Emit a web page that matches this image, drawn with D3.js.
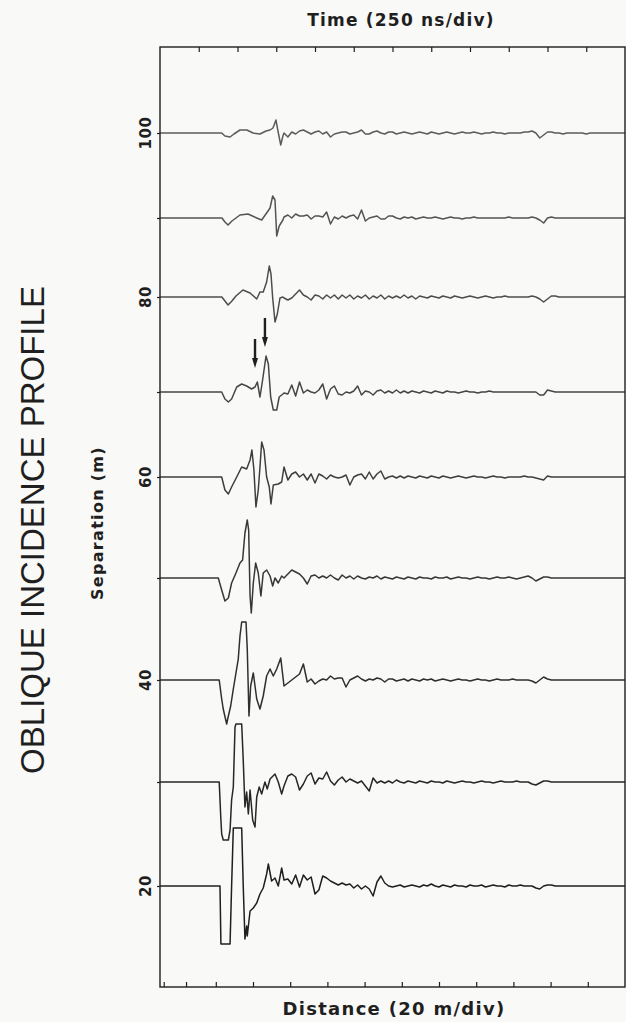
<!DOCTYPE html>
<html>
<head>
<meta charset="utf-8">
<script src="https://cdn.jsdelivr.net/npm/d3@7"></script>
<style>
  html, body { margin: 0; padding: 0; background: #f9f9f7; }
  svg { display: block; }
</style>
</head>
<body>
<svg id="chart" width="626" height="1022"></svg>
<script>
// separation (m) of each trace, top to bottom
const separations = [100, 90, 80, 70, 60, 50, 40, 30, 20]
const sepTicks = [100, 90, 80, 70, 60, 50, 40, 30, 20]
const sepLabels = [100, 80, 60, 40, 20]
const timeTicks = [250, 500, 750, 1000, 1250, 1500, 1750, 2000, 2250, 2500, 2750]
const distTicks = [-28, -16, 0, 20, 40, 60, 80, 100, 120, 140, 160, 180, 200]

// early part of each trace: [time ns, relative amplitude]
const head100 = [[0,0],[398,0],[419,-3],[452,-4],[477,-1],[516,3],[561,3],[600,0],[645,-1],[684,2],[710,3],[729,5],[748,13],[761,2],[779,-12],[793,-3]]
const head90 = [[0,0],[400,0],[419,-4],[439,-7],[464,-3],[516,3],[568,4],[624,0],[656,-2],[688,5],[710,10],[727,22],[742,18],[753,-18],[769,-8],[793,-2]]
const head80 = [[0,0],[399,0],[419,-4],[439,-8],[464,-4],[490,1],[535,7],[581,4],[624,-2],[645,5],[666,5],[688,15],[705,31],[716,23],[727,-1],[742,-25],[757,-17],[774,-1],[793,0]]
const head70 = [[0,0],[398,0],[419,-7],[441,-10],[462,-7],[495,5],[527,8],[559,6],[591,3],[613,5],[628,10],[645,-5],[662,12],[684,36],[699,28],[714,-5],[731,-18],[753,-18],[769,-5],[793,-2]]
const head60 = [[0,0],[398,0],[419,-13],[441,-17],[462,-10],[495,0],[527,10],[559,8],[581,17],[593,27],[606,7],[619,-30],[634,-13],[645,10],[656,35],[671,27],[688,0],[705,-10],[716,-27],[731,-8],[763,-7],[785,-5]]
const head50 = [[0,0],[376,0],[398,-12],[419,-23],[441,-20],[462,-5],[490,5],[516,15],[533,18],[548,45],[563,58],[572,48],[581,-18],[589,-35],[602,-5],[617,15],[634,5],[651,-18],[666,5],[688,8],[710,2],[727,-8],[742,0],[763,-5],[785,2]]
const head40 = [[0,0],[382,0],[398,-19],[408,-29],[430,-44],[441,-36],[456,-26],[473,-9],[490,7],[505,21],[516,44],[527,58],[555,58],[563,31],[574,-36],[585,-6],[602,7],[624,-19],[645,-29],[666,-16],[688,4],[710,11],[731,4],[753,11],[779,22]]
const head30 = [[0,0],[382,0],[392,-35],[398,-52],[408,-58],[441,-58],[452,-48],[462,-18],[473,-5],[484,55],[490,58],[527,58],[537,22],[548,-25],[559,-10],[570,-32],[581,-8],[598,-38],[613,-45],[624,-15],[640,-5],[656,-12],[677,0],[692,-7],[710,3],[742,8],[763,0],[785,-12]]
const head20 = [[0,0],[387,0],[393,-58],[452,-58],[462,0],[473,58],[527,58],[537,0],[548,-53],[559,-40],[563,-50],[581,-25],[602,-22],[624,-17],[645,-8],[666,-2],[688,12],[699,22],[720,5],[742,8],[763,0],[785,18]]

// later part: samples every 25 ns from 800 ns
const codaStart = 800
const codaStep = 25
const coda100 = [0,-4,1,-1,2,3,1,-1,1,2, -1,1,-4,-1,0,1,1,-1,0,1, 3,-1,-1,1,2,0,-1,1,1,-1, 0,1,0,-1,0,1,0,-1,1,0, -1,0,1,0,-1,0,1,0,0,1, 0,-1,0,0,1,0,0,-1,0,0, 0,0,1,1,2,0,-5,-2,1,1, 0,0,-1,0,0,0,0,0,-1,0, 0,0,0,0,0,0,0,0,0]
const coda90 = [1,3,0,4,2,2,3,-1,2,2, 1,6,-6,1,-1,2,0,2,3,-1, 8,-3,0,1,2,-1,-1,2,2,0, -1,1,0,1,-1,0,1,0,0,1, 0,-1,0,1,0,0,-1,0,0,1, 0,0,0,0,0,0,0,0,1,0, 0,0,0,0,1,0,-2,-5,0,1, 0,0,0,0,0,0,0,0,0,0, 0,0,0,0,0,0,0,0,0]
const coda80 = [-1,-3,-1,3,7,2,0,-3,2,1, -2,2,-1,2,-2,2,-1,2,-2,1, -1,2,-2,1,-1,2,-2,1,-1,1, -1,2,-1,1,-2,1,0,-1,1,0, -1,1,0,-1,1,0,-1,0,1,0, -1,0,1,0,-1,0,0,1,0,0, 0,0,0,0,1,0,-2,-5,-2,1, 1,0,0,0,0,0,0,0,0,0, 0,0,0,0,0,0,0,0,0]
const coda70 = [-1,-2,7,-4,10,-1,2,0,-1,2, 8,-7,3,6,-2,-3,0,-1,1,6, -3,1,0,-3,1,2,-1,1,-1,2, -1,1,-1,1,0,-1,1,0,-1,1, 0,-1,1,0,0,-1,0,1,0,0, -1,0,0,1,0,0,0,0,0,0, 0,0,0,0,0,0,-3,-3,2,1, 0,0,0,0,0,0,0,0,0,0, 0,0,0,0,0,0,0,0,0]
const coda60 = [10,-3,3,5,0,3,-3,3,-6,3, 1,-2,2,0,-1,0,2,-8,0,2, 3,-2,5,-2,3,6,-2,0,1,-1, 1,-1,1,0,-1,1,0,-1,1,0, -1,1,0,-1,0,1,0,-1,0,1, 0,0,-1,0,1,0,0,-1,0,0, 0,0,1,0,0,-1,-2,-3,1,0, 0,0,0,0,0,0,0,0,0,0, 0,0,0,0,0,0,0,0,0]
const coda50 = [0,4,8,6,4,0,-6,2,3,0, 2,0,3,0,-2,3,0,2,-1,2, 0,-1,1,0,2,-1,1,0,-1,1, 0,-1,1,0,-1,1,0,0,-1,1, 0,0,1,-1,0,1,0,0,-1,0, 1,0,0,-1,0,1,0,0,1,0, -1,0,1,2,0,-3,-1,1,1,0, 0,0,0,0,0,0,0,0,0,0, 0,0,0,0,0,0,0,0,0]
const coda40 = [-6,-3,0,3,6,16,-2,1,-4,-1, 1,0,4,1,2,2,-7,0,2,4, 1,-1,1,0,2,1,-2,1,1,-1, 0,1,-1,1,0,-1,1,0,1,-1, 0,1,0,-1,0,1,0,0,-1,0, 1,0,0,-1,0,1,0,0,0,1, 0,0,0,0,-1,-3,0,3,1,0, 0,0,0,0,0,0,0,0,0,0, 0,0,0,0,0,0,0,0,0]
const coda30 = [-4,6,8,5,-8,-2,6,9,-2,4, 3,10,1,-3,2,5,0,3,1,-1, 1,-4,-9,4,-1,1,-1,1,-1,2, 0,-1,1,0,-1,1,0,-1,1,0, 0,-1,1,0,-1,0,1,0,0,-1, 0,1,0,0,-1,0,1,0,0,0, 1,0,0,0,-2,-3,-1,1,1,0, 0,0,0,0,0,0,0,0,0,0, 0,0,0,0,0,0,0,0,0]
const coda20 = [6,7,2,11,-1,11,6,9,-8,-4, 10,8,5,3,1,3,1,2,-2,1, -3,0,-3,-10,4,10,3,0,-1,0, 1,-1,0,1,0,-1,1,0,2,0, -1,1,0,-1,1,0,0,-1,1,0, 0,1,-1,0,1,0,0,-1,1,0, 0,1,0,0,0,-2,-3,0,1,1, 0,0,0,0,0,0,0,0,0,0, 0,0,0,0,0,0,0,0,0]

// picked arrivals on the 70 m trace: time ns, amplitude of arrow tip
const arrowTimes = [613, 677]
const arrowTips = [24, 45]

const heads = [head100, head90, head80, head70, head60, head50, head40, head30, head20]
const codas = [coda100, coda90, coda80, coda70, coda60, coda50, coda40, coda30, coda20]

const traces = separations.map((sep, i) => ({
  sep: sep,
  points: heads[i].concat(codas[i].map((a, k) => [codaStart + k * codaStep, a]))
}))

const svg = d3.select('#chart')
const ink = '#1f1f1f'

const x = d3.scaleLinear().domain([0, 3000]).range([160, 625])
const dist = d3.scaleLinear().domain([-30, 220]).range([160, 625])
// scanned figure: rows are not quite evenly spaced
const yRow = d3.scaleLinear()
  .domain([110, 100, 90, 80, 70, 60, 50, 40, 30, 20, 10])
  .range([47, 133, 218, 297, 392, 477, 578, 680, 782, 886, 987])
const amp = d3.scaleLinear().domain([-60, 60]).range([60, -60])
const fade = d3.scaleLinear().domain([100, 20]).range([0.72, 1])

const frameTop = yRow(110), frameBottom = yRow(10), frameLeft = x(0), frameRight = x(3000)

svg.append('defs').append('clipPath')
    .attr('id', 'frame')
  .append('rect')
    .attr('x', frameLeft)
    .attr('y', frameTop)
    .attr('width', frameRight - frameLeft)
    .attr('height', frameBottom - frameTop)

const line = d3.line()
    .x(d => x(d[0]))

svg.append('g')
    .attr('clip-path', 'url(#frame)')
  .selectAll('path')
  .data(traces)
  .join('path')
    .attr('fill', 'none')
    .attr('stroke', ink)
    .attr('stroke-width', 1.5)
    .attr('stroke-linejoin', 'round')
    .attr('opacity', d => fade(d.sep))
    .attr('d', d => line.y(p => yRow(d.sep) + amp(p[1]))(d.points))

svg.append('rect')
    .attr('x', frameLeft)
    .attr('y', frameTop)
    .attr('width', frameRight - frameLeft)
    .attr('height', frameBottom - frameTop)
    .attr('fill', 'none')
    .attr('stroke', ink)
    .attr('stroke-width', 1.4)

const topAxis = svg.append('g')
    .attr('transform', `translate(0,${frameTop})`)
    .call(d3.axisBottom(x).tickValues(timeTicks).tickSize(5).tickFormat(''))
const bottomAxis = svg.append('g')
    .attr('transform', `translate(0,${frameBottom})`)
    .call(d3.axisTop(dist).tickValues(distTicks).tickSize(5).tickFormat(''))
const leftAxis = svg.append('g')
    .attr('transform', `translate(${frameLeft},0)`)
    .call(d3.axisLeft(yRow).tickValues(sepTicks).tickSize(3).tickFormat(''))

;[topAxis, bottomAxis, leftAxis].forEach(g => {
  g.select('.domain').remove()
  g.selectAll('line').attr('stroke', ink).attr('stroke-width', 1.2)
})

svg.append('g')
  .selectAll('text')
  .data(sepLabels)
  .join('text')
    .attr('transform', d => `translate(151,${yRow(d)}) rotate(-90)`)
    .attr('text-anchor', 'middle')
    .attr('font-family', 'DejaVu Sans')
    .attr('font-weight', 'bold')
    .attr('font-size', 15)
    .attr('letter-spacing', 0.5)
    .attr('fill', ink)
    .text(d => d)

// arrows marking arrivals on the 70 m trace
const arrows = svg.append('g')
arrowTimes.forEach((t, i) => {
  const ax = x(t)
  const tip = yRow(70) + amp(arrowTips[i])
  arrows.append('line')
      .attr('x1', ax).attr('x2', ax)
      .attr('y1', tip - 29).attr('y2', tip - 8)
      .attr('stroke', ink)
      .attr('stroke-width', 2.4)
  arrows.append('path')
      .attr('d', `M${ax - 3},${tip - 10}L${ax + 3},${tip - 10}L${ax},${tip}Z`)
      .attr('fill', ink)
})

svg.append('text')
    .attr('x', 401)
    .attr('y', 26)
    .attr('text-anchor', 'middle')
    .attr('font-family', 'DejaVu Sans')
    .attr('font-weight', 'bold')
    .attr('font-size', 17)
    .attr('letter-spacing', 1.2)
    .attr('fill', ink)
    .text('Time (250 ns/div)')

svg.append('text')
    .attr('x', 394)
    .attr('y', 1015)
    .attr('text-anchor', 'middle')
    .attr('font-family', 'DejaVu Sans')
    .attr('font-weight', 'bold')
    .attr('font-size', 18)
    .attr('letter-spacing', 1.3)
    .attr('fill', ink)
    .text('Distance (20 m/div)')

svg.append('text')
    .attr('transform', 'translate(103,523) rotate(-90)')
    .attr('text-anchor', 'middle')
    .attr('font-family', 'DejaVu Sans')
    .attr('font-weight', 'bold')
    .attr('font-size', 16)
    .attr('letter-spacing', 1.3)
    .attr('fill', ink)
    .text('Separation (m)')

svg.append('text')
    .attr('transform', 'translate(44,530) rotate(-90)')
    .attr('text-anchor', 'middle')
    .attr('font-family', 'Liberation Sans')
    .attr('font-size', 33)
    .attr('fill', ink)
    .text('OBLIQUE INCIDENCE PROFILE')
</script>
</body>
</html>
